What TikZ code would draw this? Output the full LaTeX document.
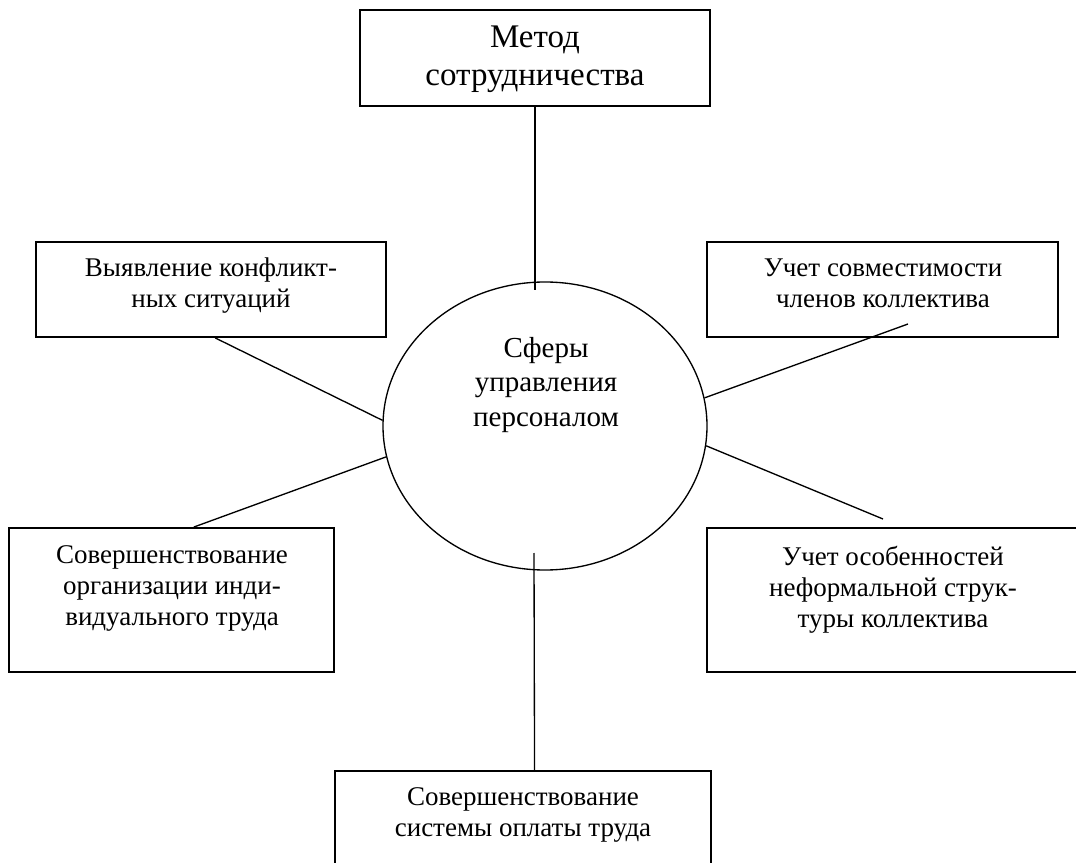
\documentclass[tikz,border=0pt]{standalone}
\usepackage{fontspec}
\setmainfont{Liberation Serif}
\usetikzlibrary{shapes.geometric}

\tikzset{
  blok/.style={draw, line width=1.4pt, inner sep=0pt},
  tekst/.style={anchor=north, inner sep=0pt, align=center, font=\fontsize{20.25pt}{23.25pt}\selectfont},
  svyaz/.style={line width=1pt}
}

\begin{document}
\begin{tikzpicture}[x=0.75pt, y=-0.75pt]
    % рамка рисунка
    \useasboundingbox (0,0) rectangle (1076,863);

    % центральный эллипс
    \node[ellipse, draw, line width=1pt, minimum width=243pt, minimum height=216pt, inner sep=0pt] (sfera) at (545,426) {};
    \node[tekst, font=\fontsize{21.75pt}{25.9pt}\selectfont] (sfera-t) at (546,337) {Сферы\\управления\\персоналом};

    % блоки вокруг эллипса
    \node[blok, minimum width=262.5pt, minimum height=72pt] (metod) at (535,58) {};
    \node[blok, minimum width=262.5pt, minimum height=71.25pt] (vyyav) at (211,289.5) {};
    \node[blok, minimum width=263.25pt, minimum height=71.25pt] (sovm) at (882.5,289.5) {};
    \node[blok, minimum width=243.75pt, minimum height=108pt] (indiv) at (171.5,600) {};
    \node[blok, minimum width=279pt, minimum height=108pt] (neform) at (893,600) {};
    \node[blok, minimum width=282pt, minimum height=108pt] (oplata) at (523,843) {};

    % надписи в блоках
    \node[tekst, font=\fontsize{24.75pt}{28.5pt}\selectfont] (metod-t) at (535,26) {Метод\\сотрудничества};
    \node[tekst] (vyyav-t) at (211,258) {Выявление конфликт-\\ных ситуаций};
    \node[tekst] (sovm-t) at (883,259) {Учет совместимости\\членов коллектива};
    \node[tekst] (indiv-t) at (172,545) {Совершенствование\\организации инди-\\видуального труда};
    \node[tekst] (neform-t) at (893,546) {Учет особенностей\\неформальной струк-\\туры коллектива};
    \node[tekst] (oplata-t) at (523,787) {Совершенствование\\системы оплаты труда};

    % свободные концы линий
    \coordinate (sfera-verh) at (535,290);
    \coordinate (sfera-niz) at (534,553);
    \coordinate (sovm-in) at (908,324);
    \coordinate (neform-up) at (883,519);

    % линии
    \draw[svyaz] (metod.south) -- (sfera-verh);
    \draw[svyaz] (vyyav.275) -- (sfera.178);
    \draw[svyaz] (sfera.10) -- (sovm-in);
    \draw[svyaz] (indiv.73) -- (sfera.191);
    \draw[svyaz] (sfera.353) -- (neform-up);
    \draw[svyaz] (sfera-niz) -- (oplata.81);
\end{tikzpicture}
\end{document}
